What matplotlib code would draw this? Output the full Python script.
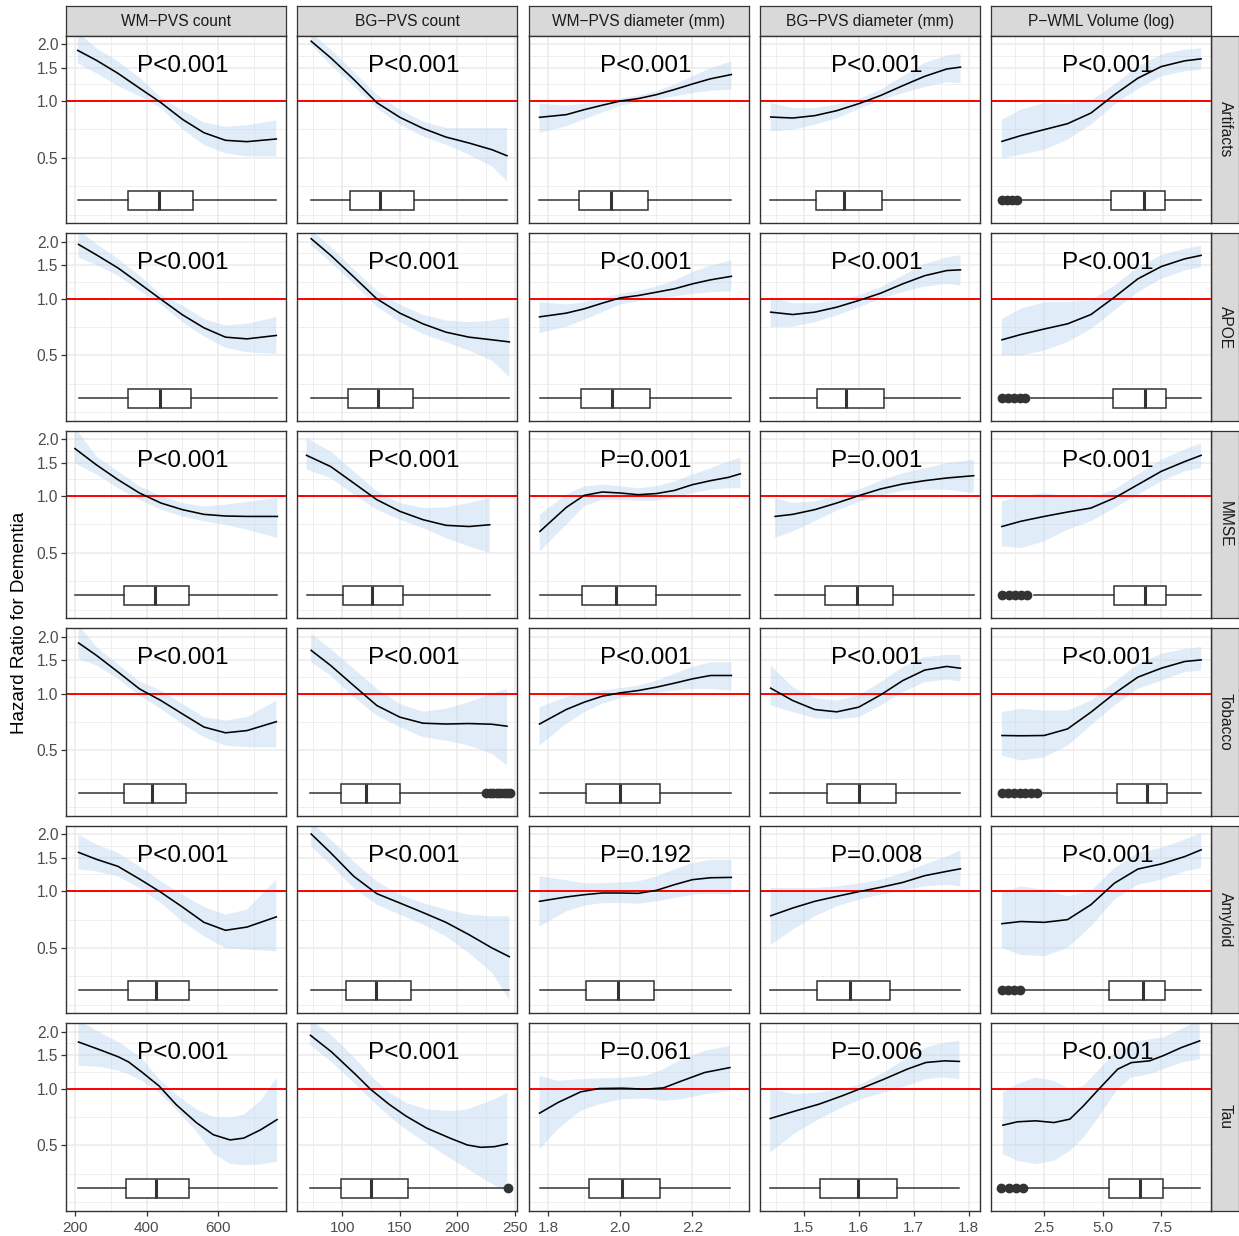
import matplotlib
matplotlib.use("Agg")
import matplotlib.pyplot as plt
import numpy as np
from matplotlib.ticker import FixedLocator, FixedFormatter, NullFormatter

plt.rcParams['font.family'] = ['Liberation Sans', 'DejaVu Sans']

# ---------------- facets ----------------
col_titles = ["WM\u2212PVS count", "BG\u2212PVS count", "WM\u2212PVS diameter (mm)",
              "BG\u2212PVS diameter (mm)", "P\u2212WML Volume (log)"]
row_titles = ["Artifacts", "APOE", "MMSE", "Tobacco", "Amyloid", "Tau"]

x_ticks = [[200, 400, 600], [100, 150, 200, 250], [1.8, 2.0, 2.2],
           [1.5, 1.6, 1.7, 1.8], [2.5, 5.0, 7.5]]
x_tick_labels = [["200", "400", "600"], ["100", "150", "200", "250"],
                 ["1.8", "2.0", "2.2"], ["1.5", "1.6", "1.7", "1.8"],
                 ["2.5", "5.0", "7.5"]]
x_minor = [[300, 500, 700], [75, 125, 175, 225], [1.9, 2.1, 2.3],
           [1.45, 1.55, 1.65, 1.75], [1.25, 3.75, 6.25, 8.75]]
x_limits = [(175, 789), (61, 252), (1.746, 2.356), (1.4206, 1.8206), (0.25, 9.64)]
y_ticks = [0.5, 1.0, 1.5, 2.0]
y_tick_labels = ["0.5", "1.0", "1.5", "2.0"]

# ---------------- Artifacts ----------------
artifacts_x = [[208, 260, 320, 380, 440, 500, 560, 620, 680, 762],
               [73, 90, 110, 130, 150, 170, 190, 210, 230, 243],
               [1.776, 1.85, 1.9, 1.95, 2.0, 2.05, 2.1, 2.15, 2.2, 2.25, 2.308],
               [1.44, 1.48, 1.52, 1.56, 1.6, 1.64, 1.68, 1.72, 1.76, 1.785],
               [0.7, 1.5, 2.5, 3.5, 4.5, 5.5, 6.5, 7.5, 8.5, 9.2]]
artifacts_hr = [[1.85, 1.64, 1.40, 1.17, 0.98, 0.80, 0.68, 0.62, 0.61, 0.63],
                [2.07, 1.69, 1.30, 0.98, 0.82, 0.717, 0.645, 0.60, 0.553, 0.514],
                [0.82, 0.847, 0.90, 0.95, 1.0, 1.03, 1.08, 1.15, 1.23, 1.31, 1.38],
                [0.823, 0.813, 0.837, 0.889, 0.968, 1.07, 1.205, 1.35, 1.476, 1.51],
                [0.612, 0.656, 0.706, 0.759, 0.864, 1.08, 1.32, 1.52, 1.63, 1.67]]
artifacts_lo = [[1.58, 1.40, 1.20, 1.06, 0.92, 0.71, 0.585, 0.53, 0.51, 0.51],
                [1.98, 1.55, 1.195, 0.918, 0.75, 0.65, 0.588, 0.52, 0.452, 0.377],
                [0.678, 0.735, 0.80, 0.87, 0.945, 0.984, 1.016, 1.058, 1.10, 1.134, 1.148],
                [0.69, 0.705, 0.75, 0.81, 0.907, 1.008, 1.10, 1.185, 1.255, 1.245],
                [0.50, 0.52, 0.553, 0.625, 0.75, 0.956, 1.157, 1.35, 1.435, 1.46]]
artifacts_hi = [[2.3, 1.90, 1.62, 1.33, 1.04, 0.89, 0.77, 0.73, 0.745, 0.79],
                [2.3, 1.87, 1.43, 1.08, 0.90, 0.78, 0.72, 0.72, 0.72, 0.72],
                [0.968, 0.945, 0.968, 1.0, 1.033, 1.067, 1.125, 1.22, 1.35, 1.49, 1.62],
                [0.976, 0.918, 0.918, 0.956, 1.025, 1.148, 1.35, 1.59, 1.74, 1.78],
                [0.797, 0.90, 0.976, 0.968, 1.0, 1.22, 1.52, 1.76, 1.87, 1.9]]
artifacts_box = [[208, 347, 434, 529, 762], [72.7, 106.7, 132.9, 162.5, 243.4],
                 [1.775, 1.886, 1.973, 2.078, 2.308], [1.439, 1.522, 1.573, 1.642, 1.785],
                 [1.6, 5.34, 6.75, 7.67, 9.2]]
artifacts_out = [[], [], [], [], [0.72, 0.93, 1.14, 1.36]]
artifacts_p = ["P<0.001", "P<0.001", "P<0.001", "P<0.001", "P<0.001"]

# ---------------- APOE ----------------
apoe_x = [[210, 260, 320, 380, 440, 500, 560, 620, 680, 762],
          [73, 90, 110, 130, 150, 170, 190, 210, 230, 245],
          [1.776, 1.85, 1.9, 1.95, 2.0, 2.05, 2.1, 2.15, 2.2, 2.25, 2.308],
          [1.44, 1.48, 1.52, 1.56, 1.6, 1.64, 1.68, 1.72, 1.76, 1.785],
          [0.7, 1.5, 2.5, 3.5, 4.5, 5.5, 6.5, 7.5, 8.5, 9.2]]
apoe_hr = [[1.93, 1.70, 1.45, 1.20, 0.99, 0.82, 0.70, 0.625, 0.612, 0.638],
           [2.07, 1.69, 1.30, 0.996, 0.837, 0.735, 0.664, 0.625, 0.605, 0.59],
           [0.80, 0.837, 0.882, 0.945, 1.008, 1.037, 1.08, 1.125, 1.195, 1.255, 1.31],
           [0.847, 0.823, 0.847, 0.90, 0.976, 1.067, 1.195, 1.32, 1.405, 1.417],
           [0.605, 0.645, 0.69, 0.735, 0.823, 1.016, 1.27, 1.475, 1.62, 1.69]]
apoe_lo = [[1.65, 1.50, 1.32, 1.10, 0.93, 0.75, 0.63, 0.55, 0.52, 0.51],
           [1.9, 1.555, 1.195, 0.907, 0.75, 0.65, 0.588, 0.531, 0.47, 0.384],
           [0.656, 0.71, 0.772, 0.847, 0.93, 0.968, 0.996, 1.025, 1.058, 1.08, 1.093],
           [0.706, 0.71, 0.75, 0.813, 0.90, 0.996, 1.08, 1.157, 1.195, 1.17],
           [0.50, 0.50, 0.531, 0.588, 0.69, 0.864, 1.08, 1.27, 1.405, 1.46]]
apoe_hi = [[2.3, 1.94, 1.62, 1.32, 1.05, 0.918, 0.78, 0.72, 0.735, 0.797],
           [2.3, 1.87, 1.43, 1.10, 0.93, 0.82, 0.765, 0.75, 0.765, 0.797],
           [0.956, 0.93, 0.956, 1.008, 1.058, 1.10, 1.157, 1.245, 1.38, 1.49, 1.59],
           [1.016, 0.945, 0.945, 0.976, 1.037, 1.148, 1.32, 1.52, 1.65, 1.69],
           [0.78, 0.882, 0.956, 0.956, 0.976, 1.17, 1.46, 1.69, 1.83, 1.9]]
apoe_box = [[210.6, 347, 438, 525, 764], [72.6, 105.4, 131, 161.2, 245],
            [1.777, 1.89, 1.977, 2.082, 2.308], [1.439, 1.524, 1.577, 1.646, 1.785],
            [1.95, 5.44, 6.81, 7.7, 9.2]]
apoe_out = [[], [], [], [], [0.7, 0.95, 1.2, 1.45, 1.7]]
apoe_p = ["P<0.001", "P<0.001", "P<0.001", "P<0.001", "P<0.001"]

# ---------------- MMSE ----------------
mmse_x = [[200, 260, 320, 380, 440, 500, 560, 620, 680, 765],
          [69, 90, 110, 130, 150, 170, 190, 210, 228],
          [1.777, 1.85, 1.9, 1.95, 2.0, 2.05, 2.1, 2.15, 2.2, 2.25, 2.3, 2.333],
          [1.448, 1.48, 1.52, 1.56, 1.6, 1.64, 1.68, 1.72, 1.76, 1.809],
          [0.7, 1.5, 2.5, 3.5, 4.5, 5.5, 6.5, 7.5, 8.5, 9.2]]
mmse_hr = [[1.78, 1.46, 1.22, 1.037, 0.918, 0.847, 0.80, 0.784, 0.78, 0.78],
           [1.64, 1.43, 1.17, 0.956, 0.83, 0.75, 0.70, 0.69, 0.705],
           [0.65, 0.87, 1.008, 1.05, 1.037, 1.016, 1.03, 1.07, 1.148, 1.205, 1.255, 1.31],
           [0.78, 0.80, 0.847, 0.918, 1.004, 1.09, 1.157, 1.205, 1.245, 1.28],
           [0.69, 0.735, 0.78, 0.823, 0.864, 0.976, 1.148, 1.35, 1.52, 1.64]]
mmse_lo = [[1.49, 1.30, 1.10, 0.956, 0.847, 0.78, 0.735, 0.705, 0.664, 0.60],
           [1.38, 1.245, 1.016, 0.847, 0.75, 0.678, 0.60, 0.542, 0.50],
           [0.51, 0.705, 0.882, 0.956, 0.956, 0.945, 0.945, 0.984, 1.037, 1.08, 1.10, 1.10],
           [0.60, 0.65, 0.735, 0.837, 0.93, 1.008, 1.067, 1.08, 1.08, 1.037],
           [0.542, 0.531, 0.576, 0.664, 0.735, 0.864, 1.016, 1.195, 1.35, 1.405]]
mmse_hi = [[2.3, 1.62, 1.35, 1.125, 1.0, 0.918, 0.88, 0.90, 0.93, 0.976],
           [2.02, 1.72, 1.35, 1.06, 0.918, 0.864, 0.87, 0.918, 0.976],
           [0.797, 1.016, 1.125, 1.148, 1.125, 1.10, 1.125, 1.195, 1.30, 1.40, 1.52, 1.59],
           [0.976, 0.918, 0.937, 1.0, 1.08, 1.205, 1.32, 1.40, 1.49, 1.555],
           [0.937, 1.0, 1.037, 0.996, 0.976, 1.08, 1.30, 1.555, 1.76, 1.9]]
mmse_box = [[200, 337, 423, 518, 764], [69.3, 100.9, 125.8, 152.7, 228],
            [1.777, 1.894, 1.988, 2.099, 2.333], [1.448, 1.538, 1.597, 1.663, 1.809],
            [2.05, 5.47, 6.81, 7.70, 9.2]]
mmse_out = [[], [], [], [], [0.72, 0.98, 1.25, 1.5, 1.78]]
mmse_p = ["P<0.001", "P<0.001", "P=0.001", "P=0.001", "P<0.001"]

# ---------------- Tobacco ----------------
tobacco_x = [[210, 260, 320, 380, 440, 500, 560, 620, 680, 762],
             [73, 90, 110, 130, 150, 170, 190, 210, 230, 243],
             [1.776, 1.85, 1.9, 1.95, 2.0, 2.05, 2.1, 2.15, 2.2, 2.25, 2.308],
             [1.44, 1.48, 1.52, 1.56, 1.6, 1.64, 1.68, 1.72, 1.76, 1.785],
             [0.7, 1.5, 2.5, 3.5, 4.5, 5.5, 6.5, 7.5, 8.5, 9.2]]
tobacco_hr = [[1.85, 1.59, 1.30, 1.058, 0.918, 0.78, 0.665, 0.62, 0.637, 0.71],
              [1.69, 1.405, 1.10, 0.864, 0.75, 0.697, 0.69, 0.694, 0.688, 0.672],
              [0.69, 0.823, 0.90, 0.968, 1.008, 1.037, 1.08, 1.134, 1.195, 1.245, 1.245],
              [1.067, 0.918, 0.823, 0.80, 0.847, 0.984, 1.17, 1.33, 1.39, 1.36],
              [0.60, 0.598, 0.60, 0.65, 0.797, 1.0, 1.22, 1.36, 1.476, 1.505]]
tobacco_lo = [[1.52, 1.41, 1.195, 0.976, 0.83, 0.69, 0.588, 0.531, 0.52, 0.52],
              [1.46, 1.245, 0.956, 0.765, 0.665, 0.588, 0.564, 0.531, 0.48, 0.417],
              [0.531, 0.69, 0.797, 0.882, 0.945, 0.984, 1.008, 1.037, 1.058, 1.058, 1.037],
              [0.864, 0.797, 0.74, 0.73, 0.75, 0.864, 1.016, 1.148, 1.185, 1.157],
              [0.47, 0.443, 0.46, 0.531, 0.678, 0.864, 1.058, 1.17, 1.30, 1.32]]
tobacco_hi = [[2.3, 1.76, 1.43, 1.157, 1.037, 0.88, 0.75, 0.72, 0.75, 0.918],
              [2.07, 1.72, 1.35, 1.06, 0.88, 0.80, 0.83, 0.90, 1.0, 1.058],
              [0.847, 0.956, 1.008, 1.037, 1.067, 1.10, 1.17, 1.27, 1.38, 1.46, 1.46],
              [1.405, 1.08, 0.945, 0.918, 0.976, 1.148, 1.38, 1.555, 1.6, 1.6],
              [0.797, 0.83, 0.813, 0.813, 0.918, 1.148, 1.43, 1.62, 1.72, 1.76]]
tobacco_box = [[210.6, 337, 415, 511, 764], [72, 98.5, 121, 150, 223],
               [1.777, 1.906, 2.0, 2.109, 2.308], [1.439, 1.542, 1.60, 1.667, 1.785],
               [2.45, 5.59, 6.89, 7.76, 9.2]]
tobacco_out = [[], [225, 228, 231, 234, 237, 240, 243, 246], [], [],
               [0.7, 0.95, 1.2, 1.45, 1.7, 1.95, 2.2]]
tobacco_p = ["P<0.001", "P<0.001", "P<0.001", "P<0.001", "P<0.001"]

# ---------------- Amyloid ----------------
amyloid_x = [[210, 260, 320, 380, 440, 500, 560, 620, 680, 762],
             [73, 90, 110, 130, 150, 170, 190, 210, 230, 245],
             [1.776, 1.85, 1.9, 1.95, 2.0, 2.05, 2.1, 2.15, 2.2, 2.25, 2.308],
             [1.44, 1.48, 1.52, 1.56, 1.6, 1.64, 1.68, 1.72, 1.76, 1.785],
             [0.7, 1.5, 2.5, 3.5, 4.5, 5.5, 6.5, 7.5, 8.5, 9.2]]
amyloid_hr = [[1.6, 1.47, 1.35, 1.157, 0.984, 0.823, 0.683, 0.62, 0.645, 0.73],
              [2.0, 1.59, 1.195, 0.968, 0.864, 0.77, 0.683, 0.588, 0.50, 0.45],
              [0.882, 0.93, 0.956, 0.976, 0.976, 0.972, 1.008, 1.08, 1.148, 1.175, 1.18],
              [0.74, 0.813, 0.882, 0.937, 0.992, 1.046, 1.11, 1.205, 1.27, 1.31],
              [0.672, 0.69, 0.683, 0.706, 0.847, 1.10, 1.306, 1.39, 1.52, 1.65]]
amyloid_lo = [[1.30, 1.27, 1.195, 1.037, 0.864, 0.69, 0.576, 0.50, 0.49, 0.48],
              [1.72, 1.38, 1.037, 0.847, 0.75, 0.665, 0.576, 0.47, 0.37, 0.267],
              [0.65, 0.78, 0.837, 0.864, 0.864, 0.857, 0.882, 0.918, 0.956, 0.968, 0.956],
              [0.52, 0.625, 0.735, 0.83, 0.90, 0.956, 1.008, 1.058, 1.08, 1.058],
              [0.50, 0.46, 0.452, 0.50, 0.65, 0.90, 1.08, 1.148, 1.27, 1.32]]
amyloid_hi = [[1.98, 1.76, 1.59, 1.35, 1.125, 0.956, 0.823, 0.75, 0.797, 1.148],
              [2.3, 1.87, 1.43, 1.125, 0.956, 0.864, 0.797, 0.75, 0.735, 0.735],
              [1.195, 1.14, 1.10, 1.10, 1.11, 1.125, 1.195, 1.30, 1.405, 1.46, 1.46],
              [1.037, 1.037, 1.037, 1.058, 1.093, 1.148, 1.245, 1.38, 1.52, 1.64],
              [0.976, 1.058, 1.016, 0.937, 1.0, 1.32, 1.59, 1.69, 1.87, 2.02]]
amyloid_box = [[210.6, 347, 427, 518, 764], [72.6, 103.5, 129.7, 159.9, 245],
               [1.777, 1.906, 1.994, 2.094, 2.308], [1.439, 1.524, 1.584, 1.656, 1.785],
               [1.55, 5.28, 6.71, 7.67, 9.2]]
amyloid_out = [[], [], [], [], [0.72, 0.95, 1.2, 1.45]]
amyloid_p = ["P<0.001", "P<0.001", "P=0.192", "P=0.008", "P<0.001"]

# ---------------- Tau ----------------
tau_x = [[210, 274, 321, 350, 387, 435, 482, 539, 586, 633, 671, 718, 764],
         [72.4, 90.7, 111.3, 124.6, 140.8, 155.5, 173.2, 193.8, 208.6, 220.3, 232.2, 243.3],
         [1.776, 1.827, 1.890, 1.942, 2.005, 2.069, 2.12, 2.171, 2.234, 2.304],
         [1.439, 1.4855, 1.528, 1.570, 1.604, 1.646, 1.688, 1.722, 1.756, 1.783],
         [0.74, 1.36, 2.14, 2.92, 3.60, 4.18, 4.86, 5.64, 6.22, 7.0, 7.58, 8.36, 9.14]]
tau_hr = [[1.76, 1.59, 1.47, 1.38, 1.22, 1.03, 0.824, 0.66, 0.57, 0.535, 0.547, 0.605, 0.685],
          [1.91, 1.56, 1.19, 0.99, 0.824, 0.714, 0.618, 0.546, 0.503, 0.489, 0.493, 0.51],
          [0.741, 0.843, 0.96, 1.0, 1.004, 0.992, 1.008, 1.098, 1.215, 1.29],
          [0.694, 0.762, 0.827, 0.915, 1.0, 1.12, 1.265, 1.372, 1.40, 1.39],
          [0.64, 0.667, 0.675, 0.661, 0.689, 0.81, 1.0, 1.265, 1.37, 1.40, 1.49, 1.646, 1.785]]
tau_lo = [[1.32, 1.30, 1.24, 1.19, 1.10, 0.952, 0.775, 0.593, 0.454, 0.40, 0.393, 0.397, 0.41],
          [1.69, 1.38, 1.055, 0.877, 0.714, 0.606, 0.514, 0.427, 0.377, 0.34, 0.308, 0.283],
          [0.478, 0.61, 0.762, 0.826, 0.878, 0.885, 0.86, 0.878, 0.933, 0.972],
          [0.459, 0.585, 0.689, 0.794, 0.878, 0.952, 1.033, 1.12, 1.143, 1.12],
          [0.45, 0.415, 0.399, 0.415, 0.468, 0.551, 0.717, 0.992, 1.143, 1.19, 1.265, 1.372, 1.43]]
tau_hi = [[2.3, 1.95, 1.76, 1.62, 1.44, 1.12, 0.93, 0.775, 0.708, 0.70, 0.728, 0.86, 1.145],
          [2.3, 1.91, 1.44, 1.17, 0.952, 0.84, 0.775, 0.76, 0.775, 0.824, 0.877, 0.952],
          [1.166, 1.098, 1.12, 1.13, 1.14, 1.166, 1.265, 1.43, 1.58, 1.68],
          [0.992, 0.933, 0.952, 0.992, 1.054, 1.215, 1.457, 1.646, 1.75, 1.785],
          [0.952, 1.054, 1.143, 1.098, 0.992, 1.033, 1.265, 1.61, 1.75, 1.82, 1.86, 2.06, 2.3]]
tau_box = [[209.6, 342, 425, 517.8, 763.7], [72.4, 99, 124.6, 157, 241],
           [1.776, 1.914, 2.005, 2.11, 2.304], [1.439, 1.529, 1.598, 1.669, 1.783],
           [1.75, 5.25, 6.61, 7.58, 9.14]]
tau_out = [[], [243.5], [], [], [0.68, 1.0, 1.3, 1.6]]
tau_p = ["P<0.001", "P<0.001", "P=0.061", "P=0.006", "P<0.001"]

rows = [
    (artifacts_x, artifacts_hr, artifacts_lo, artifacts_hi, artifacts_box, artifacts_out, artifacts_p),
    (apoe_x, apoe_hr, apoe_lo, apoe_hi, apoe_box, apoe_out, apoe_p),
    (mmse_x, mmse_hr, mmse_lo, mmse_hi, mmse_box, mmse_out, mmse_p),
    (tobacco_x, tobacco_hr, tobacco_lo, tobacco_hi, tobacco_box, tobacco_out, tobacco_p),
    (amyloid_x, amyloid_hr, amyloid_lo, amyloid_hi, amyloid_box, amyloid_out, amyloid_p),
    (tau_x, tau_hr, tau_lo, tau_hi, tau_box, tau_out, tau_p),
]

# ---------------- layout / style ----------------
W, H = 1239, 1236
fig = plt.figure(figsize=(W / 100, H / 100), dpi=100)
fig.patch.set_facecolor("white")


def frac(left, top, w, h):
    return [left / W, 1 - (top + h) / H, w / W, h / H]


PL0, PDX, PW = 66.0, 231.35, 220.0
PT0, PDY, PH = 35.7, 197.5, 187.6
DARK = "#333333"
GRID = "#EBEBEB"
YLIM = (2 ** -2.146, 2 ** 1.146)
Y_MINOR = [0.25, np.sqrt(0.125), np.sqrt(0.5), np.sqrt(1.5), np.sqrt(3.0)]
BOX_Y, BOX_W = 0.2997, 0.0698


def style_strip(ax):
    ax.set_facecolor("#D9D9D9")
    ax.set_xticks([])
    ax.set_yticks([])
    for s in ax.spines.values():
        s.set_color(DARK)
        s.set_linewidth(0.9)


for c in range(5):
    sax = fig.add_axes(frac(PL0 + c * PDX, 6.0, PW, PT0 - 6.0))
    style_strip(sax)
    sax.text(0.5, 0.47, col_titles[c], ha="center", va="center", fontsize=11.2,
             color="#1A1A1A", transform=sax.transAxes)

for r in range(6):
    sax = fig.add_axes(frac(PL0 + 4 * PDX + PW, PT0 + r * PDY, 27.5, PH))
    style_strip(sax)
    sax.text(0.5, 0.5, row_titles[r], ha="center", va="center", fontsize=11.2,
             color="#1A1A1A", rotation=-90, transform=sax.transAxes)

for r, (xs, hrs, los, his, boxes, outs, ps) in enumerate(rows):
    for c in range(5):
        ax = fig.add_axes(frac(PL0 + c * PDX, PT0 + r * PDY, PW, PH))
        ax.set_yscale("log")
        ax.set_ylim(*YLIM)
        ax.set_xlim(*x_limits[c])
        ax.set_axisbelow(True)

        ax.yaxis.set_major_locator(FixedLocator(y_ticks))
        ax.yaxis.set_minor_locator(FixedLocator(Y_MINOR))
        ax.yaxis.set_minor_formatter(NullFormatter())
        ax.xaxis.set_major_locator(FixedLocator(x_ticks[c]))
        ax.xaxis.set_minor_locator(FixedLocator(x_minor[c]))
        ax.xaxis.set_minor_formatter(NullFormatter())
        if c == 0:
            ax.yaxis.set_major_formatter(FixedFormatter(y_tick_labels))
            ax.tick_params(axis="y", which="major", length=3.5, width=0.9, color=DARK,
                           labelsize=11.2, labelcolor="#4D4D4D", pad=2)
        else:
            ax.yaxis.set_major_formatter(NullFormatter())
            ax.tick_params(axis="y", which="major", length=0)
        if r == 5:
            ax.xaxis.set_major_formatter(FixedFormatter(x_tick_labels[c]))
            ax.tick_params(axis="x", which="major", length=3.5, width=0.9, color=DARK,
                           labelsize=11.0, labelcolor="#4D4D4D", pad=3.5)
        else:
            ax.xaxis.set_major_formatter(NullFormatter())
            ax.tick_params(axis="x", which="major", length=0)
        ax.tick_params(which="minor", length=0)

        ax.grid(True, which="major", color=GRID, linewidth=1.1)
        ax.grid(True, which="minor", color=GRID, linewidth=0.55)
        for s in ax.spines.values():
            s.set_color(DARK)
            s.set_linewidth(1.0)
            s.set_zorder(6)

        ax.fill_between(xs[c], los[c], his[c], facecolor="#bcd5ee", alpha=0.45,
                        linewidth=0, zorder=1)
        ax.axhline(1.0, color="#FF0000", linewidth=1.4, zorder=2)
        ax.plot(xs[c], hrs[c], color="black", linewidth=1.15, zorder=3,
                solid_joinstyle="round")

        b = boxes[c]
        stats = [{"whislo": b[0], "q1": b[1], "med": b[2], "q3": b[3], "whishi": b[4],
                  "fliers": np.array(outs[c], dtype=float)}]
        kw = dict(positions=[BOX_Y], widths=[BOX_W], patch_artist=True, showcaps=False,
                  boxprops=dict(facecolor="white", edgecolor=DARK, linewidth=1.1),
                  medianprops=dict(color=DARK, linewidth=2.2),
                  whiskerprops=dict(color=DARK, linewidth=1.1),
                  flierprops=dict(marker="o", markersize=6, markerfacecolor=DARK,
                                  markeredgecolor=DARK, linestyle="none"),
                  manage_ticks=False, zorder=4)
        try:
            ax.bxp(stats, orientation="horizontal", **kw)
        except TypeError:
            ax.bxp(stats, vert=False, **kw)

        ax.text(0.53, 0.808, ps[c], transform=ax.transAxes, ha="center", va="baseline",
                fontsize=17.5, color="black", zorder=5)

fig.text(20 / W, 1 - 623 / H, "Hazard Ratio for Dementia", rotation=90, ha="center",
         va="center", fontsize=13.6, color="black")

fig.savefig("out.png", dpi=100, facecolor="white")
